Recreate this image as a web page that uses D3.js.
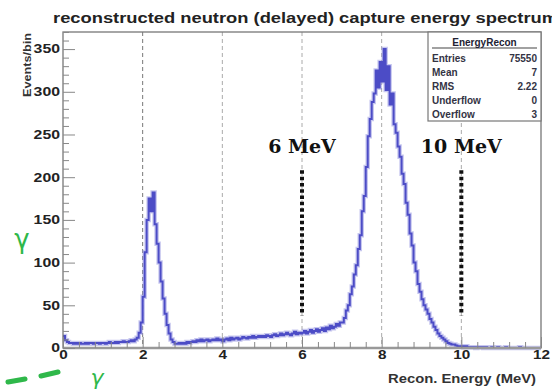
<!DOCTYPE html>
<html><head><meta charset="utf-8">
<script src="https://cdn.jsdelivr.net/npm/d3@7"></script>
<style>body{margin:0;background:#fff}svg{display:block}</style>
</head><body>
<svg id="c" width="552" height="389"></svg>
<script>
// ---- data ----
const binStart = 0;
const binWidth = 0.05;
const counts = [
 14,9,7,6,6,5,6,5,6,5,5,6,5,6,6,5,6,6,5,6,
 6,5,6,7,6,6,7,6,7,7,8,7,7,8,9,8,10,12,
 18,30, 60,112, 150,175, 160,182, 145,122, 100,78, 58,40, 27,17, 10,7,
 5,5,6,5,
 6,5,7,6,7,8,7,9,8,10,8,9,10,8,9,10,9,11,9,10,
 8,10,11,9,12,10,11,12,10,11,13,12,11,13,12,14,12,13,14,13,
 14,13,15,14,13,15,16,14,15,17,15,16,18,16,15,17,19,16,18,17,
 18,20,17,19,21,18,20,22,19,21,23,20,24,22,26,23,25,28,26,30,
 30,35,44,50,63,72,86,97,116,132,160,178,212,248,268,288,298,325,305,335,
 312,350,302,330,285,298,262,252,236,224,204,192,170,156,134,120,100,90,75,66,
 57,50,45,40,34,30,25,21,17,14,12,10,8,6,5,4,4,3,2,2,
 2,1,2,1,1,1,1,0,1,1,1,0,1,0,0,1,0,0,1,0,
 0,0,1,0,0,0,0,0,0,1,0,0,0,0,0,0,0,0,0,0
];
const xTicks = [0,2,4,6,8,10,12];
const yTicks = [0,50,100,150,200,250,300,350];
const gridLines = [2,4,6,8,10];
const markerLines = [6,10];
const markerLabels = ["6 MeV","10 MeV"];
const statsTitle = "EnergyRecon";
const statsNames = ["Entries","Mean","RMS","Underflow","Overflow"];
const statsValues = ["75550","7","2.22","0","3"];
const title = "reconstructed neutron (delayed) capture energy spectrum";
const xTitle = "Recon. Energy (MeV)";
const yTitle = "Events/bin";

// ---- layout ----
const svg = d3.select("#c");
const L=63, R=541, T=32, B=348;
const x = d3.scaleLinear().domain([0,12]).range([L,R]);
const y = d3.scaleLinear().domain([0,370]).range([B,T]);
const font = "'Liberation Sans', Arial, sans-serif";

// title
svg.append("text").attr("x",53).attr("y",23).attr("font-family",font)
  .attr("font-weight","bold").attr("font-size",14).attr("fill","#222")
  .attr("textLength",505).attr("lengthAdjust","spacingAndGlyphs").text(title);

// grid dashed lines
svg.append("g").selectAll("line").data(gridLines).join("line")
  .attr("x1",d=>x(d)).attr("x2",d=>x(d)).attr("y1",T).attr("y2",B)
  .attr("stroke",d=>d===2?"#777":"#aaa").attr("stroke-width",1).attr("stroke-dasharray","4,3");

// histogram
const pts = counts.map((c,i)=>[binStart+i*binWidth,c]);
pts.push([binStart+counts.length*binWidth, counts[counts.length-1]]);
const line = d3.line().x(d=>x(d[0])).y(d=>y(d[1])).curve(d3.curveStepAfter);
svg.append("path").datum(pts).attr("d",line).attr("fill","none")
  .attr("stroke","#8f8fe0").attr("stroke-width",4.5).attr("stroke-opacity",0.5);
svg.append("path").datum(pts).attr("d",line).attr("fill","none")
  .attr("stroke","#4c4cc6").attr("stroke-width",2);

// frame
svg.append("rect").attr("x",L).attr("y",T).attr("width",R-L).attr("height",B-T)
  .attr("fill","none").attr("stroke","#777").attr("stroke-width",1.3);
svg.append("line").attr("x1",L).attr("x2",R).attr("y1",B).attr("y2",B)
  .attr("stroke","#999").attr("stroke-width",2.5);

// axes
const yAx = svg.append("g").attr("transform",`translate(${L},0)`)
  .call(d3.axisLeft(y).tickValues(yTicks).tickSize(-12).tickPadding(3));
svg.append("g").attr("transform",`translate(${L},0)`)
  .call(d3.axisLeft(y).tickValues(d3.range(0,371,10).filter(v=>v%50)).tickSize(-6).tickFormat(""));
const xAx = svg.append("g").attr("transform",`translate(0,${B})`)
  .call(d3.axisBottom(x).tickValues(xTicks).tickSize(-11).tickPadding(4));
svg.append("g").attr("transform",`translate(0,${B})`)
  .call(d3.axisBottom(x).tickValues(d3.range(0,12.01,0.4).filter(v=>Math.abs(v/2-Math.round(v/2))>0.01)).tickSize(-6).tickFormat(""));
svg.selectAll(".domain").remove();
svg.selectAll(".tick line").attr("stroke","#888").attr("stroke-width",1);
svg.selectAll(".tick text").attr("font-family",font).attr("font-weight","bold")
  .attr("font-size",12).attr("fill","#222");
yAx.selectAll(".tick text").attr("textLength",d=>String(d).length*8.8).attr("lengthAdjust","spacingAndGlyphs");
xAx.selectAll(".tick text").attr("textLength",d=>String(d).length*8.5).attr("lengthAdjust","spacingAndGlyphs").attr("dy","0.6em");

// axis titles
svg.append("text").attr("x",R-5).attr("y",383).attr("text-anchor","end")
  .attr("font-family",font).attr("font-weight","bold").attr("font-size",12).attr("fill","#333")
  .attr("textLength",148).attr("lengthAdjust","spacingAndGlyphs").text(xTitle);
svg.append("text").attr("transform","translate(31,33) rotate(-90)").attr("text-anchor","end")
  .attr("font-family",font).attr("font-weight","bold").attr("font-size",10).attr("fill","#333")
  .attr("textLength",64).attr("lengthAdjust","spacingAndGlyphs").text(yTitle);

// marker dotted lines & labels
svg.append("g").selectAll("line").data(markerLines).join("line")
  .attr("x1",d=>x(d)).attr("x2",d=>x(d)).attr("y1",y(208)).attr("y2",y(38))
  .attr("stroke","#111").attr("stroke-width",4).attr("stroke-dasharray","3.5,2.8");
svg.append("g").selectAll("text").data(markerLines).join("text")
  .attr("x",d=>x(d)).attr("y",153).attr("text-anchor","middle")
  .attr("font-family","'DejaVu Serif', serif").attr("font-weight","bold").attr("font-size",19)
  .attr("fill","#111").text((d,i)=>markerLabels[i]);

// stats box
const sb = svg.append("g");
const bx0=428, bx1=R, by0=T, by1=121;
sb.append("rect").attr("x",bx0).attr("y",by0).attr("width",bx1-bx0).attr("height",by1-by0)
  .attr("fill","#fff").attr("stroke","#777").attr("stroke-width",1.2);
sb.append("line").attr("x1",bx0+4).attr("x2",bx1-4).attr("y1",48).attr("y2",48).attr("stroke","#444").attr("stroke-width",1.2);
sb.append("text").attr("x",(bx0+bx1)/2).attr("y",46).attr("text-anchor","middle")
  .attr("font-family",font).attr("font-weight","bold").attr("font-size",10).attr("fill","#223").text(statsTitle);
const rowY = [62,76,90,104,118];
sb.selectAll(".n").data(statsNames).join("text").attr("class","n")
  .attr("x",bx0+4).attr("y",(d,i)=>rowY[i]).attr("font-family",font).attr("font-weight","bold")
  .attr("font-size",10).attr("fill","#334").text(d=>d);
sb.selectAll(".v").data(statsValues).join("text").attr("class","v")
  .attr("x",bx1-4).attr("y",(d,i)=>rowY[i]).attr("text-anchor","end").attr("font-family",font).attr("font-weight","bold")
  .attr("font-size",10).attr("fill","#334").text(d=>d);

// green handwritten marks
const green = "#2fb84a";
svg.append("text").attr("x",22).attr("y",248).attr("text-anchor","middle")
  .attr("font-family","'DejaVu Sans', sans-serif").attr("font-size",26).attr("fill",green).text("γ");
svg.append("text").attr("x",97).attr("y",385).attr("text-anchor","middle").attr("font-style","italic")
  .attr("font-family","'DejaVu Sans', sans-serif").attr("font-size",22).attr("fill",green).text("γ");
svg.append("line").attr("x1",8).attr("y1",382).attr("x2",25).attr("y2",379)
  .attr("stroke",green).attr("stroke-width",5).attr("stroke-linecap","round");
svg.append("line").attr("x1",41).attr("y1",376).attr("x2",58).attr("y2",372)
  .attr("stroke",green).attr("stroke-width",5).attr("stroke-linecap","round");
</script>
</body></html>
